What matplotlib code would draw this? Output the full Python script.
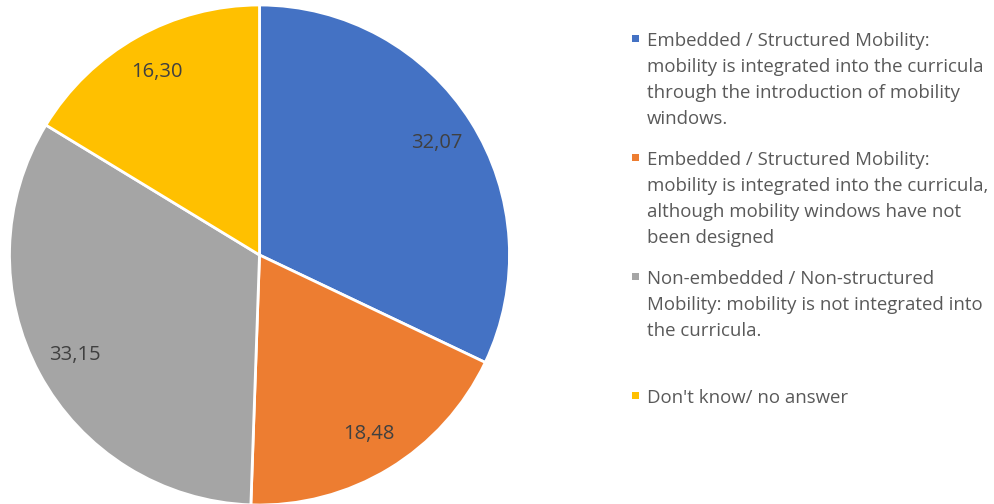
import matplotlib.pyplot as plt
from matplotlib.patches import Rectangle

plt.rcParams['font.family'] = ['Open Sans', 'DejaVu Sans']

values = [32.07, 18.48, 33.15, 16.30]
colors = ['#4472C4', '#ED7D31', '#A5A5A5', '#FFC000']
labels = [
    'Embedded / Structured Mobility:\nmobility is integrated into the curricula\nthrough the introduction of mobility\nwindows.',
    'Embedded / Structured Mobility:\nmobility is integrated into the curricula,\nalthough mobility windows have not\nbeen designed',
    'Non-embedded / Non-structured\nMobility: mobility is not integrated into\nthe curricula.',
    "Don't know/ no answer",
]

W, H = 994, 504
fig = plt.figure(figsize=(W / 100, H / 100), dpi=100)

# pie area in pixel units: centre (259.5, 255), radius 250
cx, cy, r = 259.5, 255, 250
ax = fig.add_axes([(cx - r) / W, (H - cy - r) / H, 2 * r / W, 2 * r / H])
wedges, _, autotexts = ax.pie(values, colors=colors, startangle=90, counterclock=False,
                              autopct=lambda p: f'{p:.2f}'.replace('.', ','),
                              pctdistance=0.84,
                              wedgeprops=dict(edgecolor='white', linewidth=2),
                              textprops=dict(color='#404040', fontsize=14.5))
ax.set_aspect('equal')
ax.set_xlim(-1, 1)
ax.set_ylim(-1, 1)

# legend drawn as stacked text blocks with square keys
x_key, x_text = 632, 647
y0, step = 32, 119
for i, (lab, col) in enumerate(zip(labels, colors)):
    ytop = y0 + i * step
    fig.text(x_text / W, 1 - ytop / H, lab, ha='left', va='top',
             fontsize=13.4, color='#595959', linespacing=1.57)
    fig.add_artist(Rectangle((x_key / W, 1 - (ytop + 10) / H), 7 / W, 7 / H,
                             transform=fig.transFigure, facecolor=col, edgecolor='none'))

fig.savefig('out.png', dpi=100)
